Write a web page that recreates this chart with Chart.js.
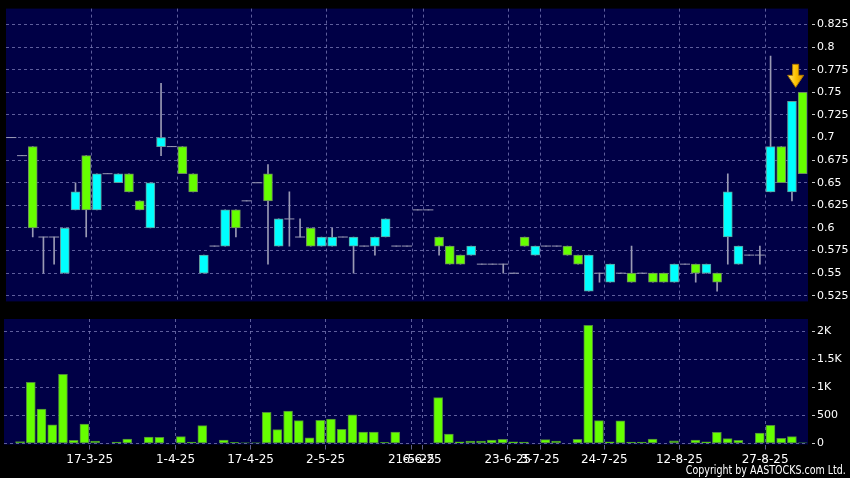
<!DOCTYPE html>
<html>
<head>
<meta charset="utf-8">
<script src="https://cdn.jsdelivr.net/npm/chart.js@4.4.0/dist/chart.umd.min.js"></script>
<style>
  html, body { margin: 0; padding: 0; background: #000; }
  #wrap { position: relative; width: 850px; height: 478px; overflow: hidden; background: #000; }
  #priceBox { position: absolute; left: 0; top: 0; width: 850px; height: 310px; }
  #volBox { position: absolute; left: 0; top: 310px; width: 850px; height: 168px; }
  #copy { position: absolute; right: 4px; top: 463px; color: #fff; font: 12px "DejaVu Sans Condensed", "DejaVu Sans", sans-serif; white-space: nowrap; transform: scaleX(0.88); transform-origin: right top; }
</style>
</head>
<body>
<div id="wrap">
  <div id="priceBox"><canvas id="priceChart"></canvas></div>
  <div id="volBox"><canvas id="volChart"></canvas></div>
  <div id="copy">Copyright by AASTOCKS.com Ltd.</div>
</div>
<script>
// daily candles, oldest first (75 trading days shown)
const open = [
  0.70, 0.68, 0.69, 0.59, 0.59, 0.55, 0.62, 0.68, 0.62, 0.66,
  0.65, 0.66, 0.63, 0.60, 0.69, 0.69, 0.69, 0.66, 0.55, 0.58,
  0.58, 0.62, 0.63, 0.65, 0.66, 0.58, 0.61, 0.59, 0.60, 0.58,
  0.58, 0.59, 0.58, 0.58, 0.58, 0.59, 0.58, 0.58, 0.62, 0.62,
  0.59, 0.58, 0.57, 0.57, 0.56, 0.56, 0.56, 0.55, 0.59, 0.57,
  0.58, 0.58, 0.58, 0.57, 0.53, 0.55, 0.54, 0.55, 0.55, 0.55,
  0.55, 0.55, 0.54, 0.56, 0.56, 0.55, 0.55, 0.59, 0.56, 0.57,
  0.57, 0.64, 0.69, 0.64, 0.75
];
const high = [
  0.70, 0.68, 0.69, 0.59, 0.59, 0.60, 0.65, 0.68, 0.66, 0.66,
  0.66, 0.66, 0.63, 0.65, 0.76, 0.69, 0.69, 0.66, 0.57, 0.58,
  0.62, 0.62, 0.63, 0.65, 0.67, 0.61, 0.64, 0.61, 0.60, 0.59,
  0.60, 0.59, 0.59, 0.58, 0.59, 0.61, 0.58, 0.58, 0.62, 0.62,
  0.59, 0.58, 0.57, 0.58, 0.56, 0.56, 0.56, 0.55, 0.59, 0.58,
  0.58, 0.58, 0.58, 0.57, 0.57, 0.55, 0.56, 0.55, 0.58, 0.55,
  0.55, 0.55, 0.56, 0.56, 0.56, 0.56, 0.55, 0.66, 0.58, 0.57,
  0.58, 0.79, 0.69, 0.74, 0.75
];
const low = [
  0.70, 0.68, 0.59, 0.55, 0.56, 0.55, 0.62, 0.59, 0.62, 0.66,
  0.65, 0.64, 0.62, 0.60, 0.68, 0.69, 0.66, 0.64, 0.55, 0.58,
  0.58, 0.59, 0.63, 0.65, 0.56, 0.58, 0.58, 0.59, 0.58, 0.58,
  0.58, 0.59, 0.55, 0.58, 0.57, 0.59, 0.58, 0.58, 0.62, 0.62,
  0.57, 0.56, 0.56, 0.57, 0.56, 0.56, 0.55, 0.55, 0.58, 0.57,
  0.58, 0.58, 0.57, 0.56, 0.53, 0.54, 0.54, 0.55, 0.54, 0.55,
  0.54, 0.54, 0.54, 0.56, 0.54, 0.55, 0.53, 0.56, 0.56, 0.57,
  0.56, 0.64, 0.65, 0.63, 0.66
];
const close = [
  0.70, 0.68, 0.60, 0.59, 0.59, 0.60, 0.64, 0.62, 0.66, 0.66,
  0.66, 0.64, 0.62, 0.65, 0.70, 0.69, 0.66, 0.64, 0.57, 0.58,
  0.62, 0.60, 0.63, 0.65, 0.63, 0.61, 0.61, 0.59, 0.58, 0.59,
  0.59, 0.59, 0.59, 0.58, 0.59, 0.61, 0.58, 0.58, 0.62, 0.62,
  0.58, 0.56, 0.56, 0.58, 0.56, 0.56, 0.56, 0.55, 0.58, 0.58,
  0.58, 0.58, 0.57, 0.56, 0.57, 0.55, 0.56, 0.55, 0.54, 0.55,
  0.54, 0.54, 0.56, 0.56, 0.55, 0.56, 0.54, 0.64, 0.58, 0.57,
  0.57, 0.69, 0.65, 0.74, 0.66
];
const volume = [
  0, 30, 1090, 610, 330, 1230, 55, 345, 40, 0,
  20, 75, 0, 110, 105, 0, 120, 20, 315, 0,
  60, 15, 5, 5, 555, 245, 575, 405, 100, 410,
  435, 250, 510, 200, 200, 15, 200, 0, 0, 0,
  815, 165, 25, 40, 40, 60, 70, 25, 20, 0,
  65, 40, 0, 70, 2105, 405, 25, 400, 20, 20,
  75, 0, 45, 0, 60, 25, 195, 85, 55, 0,
  185, 320, 90, 120, 10
];
// date labels shown under the chart, by trading-day index
const dateTicks = {
  8: '17-3-25', 16: '1-4-25', 23: '17-4-25', 30: '2-5-25', 38: '21-5-25', 39: '6-6-25',
  47: '23-6-25', 50: '3-7-25', 56: '24-7-25', 63: '12-8-25', 71: '27-8-25'
};
const priceTicks = [0.525, 0.55, 0.575, 0.6, 0.625, 0.65, 0.675, 0.7, 0.725, 0.75, 0.775, 0.8, 0.825];
const volumeTicks = [0, 500, 1000, 1500, 2000];

const labels = open.map((_, i) => dateTicks[i] || '');

const NAVY = '#000046';
const GRID = 'rgba(125,125,185,0.75)';
const UP = '#00ffff', DOWN = '#66ff00';
const WICK = '#9a9ab4';
const FONT = 'DejaVu Sans';

const plotBg = {
  id: 'plotBg',
  beforeDraw(chart) {
    const a = chart.chartArea, c = chart.ctx;
    c.save();
    c.fillStyle = NAVY;
    c.fillRect(a.left, a.top, a.right - a.left, a.bottom - a.top);
    c.restore();
  }
};

// gold marker above the latest candle
const lastArrow = {
  id: 'lastArrow',
  afterDatasetsDraw(chart) {
    const i = close.length - 1;
    const x = chart.scales.x.getPixelForValue(i) - 7;
    const tip = chart.scales.y.getPixelForValue(Math.max(open[i], close[i])) - 5;
    const c = chart.ctx;
    c.save();
    const g = c.createLinearGradient(x - 8, 0, x + 8, 0);
    g.addColorStop(0, '#ffe98a');
    g.addColorStop(0.5, '#ffc400');
    g.addColorStop(1, '#d99200');
    c.fillStyle = g;
    c.strokeStyle = '#b07a00';
    c.lineWidth = 1;
    c.beginPath();
    c.moveTo(x - 3, tip - 23);
    c.lineTo(x + 3, tip - 23);
    c.lineTo(x + 3, tip - 12);
    c.lineTo(x + 8, tip - 12);
    c.lineTo(x, tip);
    c.lineTo(x - 8, tip - 12);
    c.lineTo(x - 3, tip - 12);
    c.closePath();
    c.fill();
    c.stroke();
    c.restore();
  }
};

const xGridColor = c => (c.tick && c.tick.label) ? GRID : 'transparent';

new Chart(document.getElementById('priceChart'), {
  type: 'bar',
  data: {
    labels: labels,
    datasets: [
      {
        label: 'Body',
        data: open.map((o, i) => o === close[i] ? null : [o, close[i]]),
        backgroundColor: open.map((o, i) => close[i] > o ? UP : DOWN),
        borderColor: open.map((o, i) => close[i] > o ? '#5f9c9c' : '#6f8c5f'),
        borderWidth: 1,
        borderSkipped: false,
        barThickness: 9,
        grouped: false,
        order: 1
      },
      {
        type: 'line',
        label: 'Flat',
        data: open.map((o, i) => o === close[i] ? o : null),
        showLine: false,
        pointStyle: 'line',
        pointRadius: 5,
        pointHoverRadius: 5,
        pointBorderWidth: 1,
        pointBorderColor: WICK,
        pointBackgroundColor: WICK,
        order: 2
      },
      {
        label: 'Range',
        data: low.map((l, i) => [l, high[i]]),
        backgroundColor: WICK,
        borderWidth: 0,
        barThickness: 1,
        grouped: false,
        order: 3
      }
    ]
  },
  options: {
    responsive: true,
    maintainAspectRatio: false,
    animation: false,
    events: [],
    layout: { padding: { left: 4, top: 5, right: 0, bottom: 5 } },
    plugins: { legend: { display: false }, tooltip: { enabled: false } },
    scales: {
      x: {
        offset: true,
        ticks: { display: false, autoSkip: false },
        grid: { offset: true, color: xGridColor, drawTicks: false, lineWidth: 1 },
        border: { display: false, dash: [3, 3] },
        afterFit: s => { s.height = 0; }
      },
      y: {
        position: 'right',
        min: 0.5188,
        max: 0.8426,
        afterBuildTicks: s => { s.ticks = priceTicks.map(v => ({ value: v })); },
        ticks: {
          color: '#ffffff',
          font: { family: FONT, size: 11 },
          padding: 2,
          callback: v => String(Number(v.toFixed(3)))
        },
        grid: { color: GRID, tickLength: 7, tickColor: '#c8c8c8', tickBorderDash: [0, 4, 3, 10] },
        border: { display: false, dash: [3, 3] },
        afterFit: s => { s.width = 42; }
      }
    }
  },
  plugins: [plotBg, lastArrow]
});

new Chart(document.getElementById('volChart'), {
  type: 'bar',
  data: {
    labels: labels,
    datasets: [{
      label: 'Volume',
      data: volume,
      backgroundColor: DOWN,
      borderColor: '#4f8a3a',
      borderWidth: 1,
      borderSkipped: false,
      barThickness: 9,
      minBarLength: 0
    }]
  },
  options: {
    responsive: true,
    maintainAspectRatio: false,
    animation: false,
    events: [],
    layout: { padding: { left: 4, top: 9, right: 0, bottom: 0 } },
    plugins: { legend: { display: false }, tooltip: { enabled: false } },
    scales: {
      x: {
        offset: true,
        ticks: {
          color: '#ffffff',
          font: { family: FONT, size: 12 },
          autoSkip: false,
          maxRotation: 0,
          padding: 3,
          labelOffset: -5.36
        },
        grid: { offset: true, color: xGridColor, tickColor: xGridColor, tickLength: 5, tickBorderDash: [] },
        border: { display: false, dash: [3, 3] },
        afterFit: s => { s.height = 33.5; }
      },
      y: {
        position: 'right',
        min: -21,
        max: 2220,
        afterBuildTicks: s => { s.ticks = volumeTicks.map(v => ({ value: v })); },
        ticks: {
          color: '#ffffff',
          font: { family: FONT, size: 11 },
          padding: 2,
          callback: v => v >= 1000 ? (v / 1000) + 'K' : String(v)
        },
        grid: { color: GRID, tickLength: 7, tickColor: '#c8c8c8', tickBorderDash: [0, 4, 3, 10] },
        border: { display: false, dash: [3, 3] },
        afterFit: s => { s.width = 42; }
      }
    }
  },
  plugins: [plotBg]
});
</script>
</body>
</html>
